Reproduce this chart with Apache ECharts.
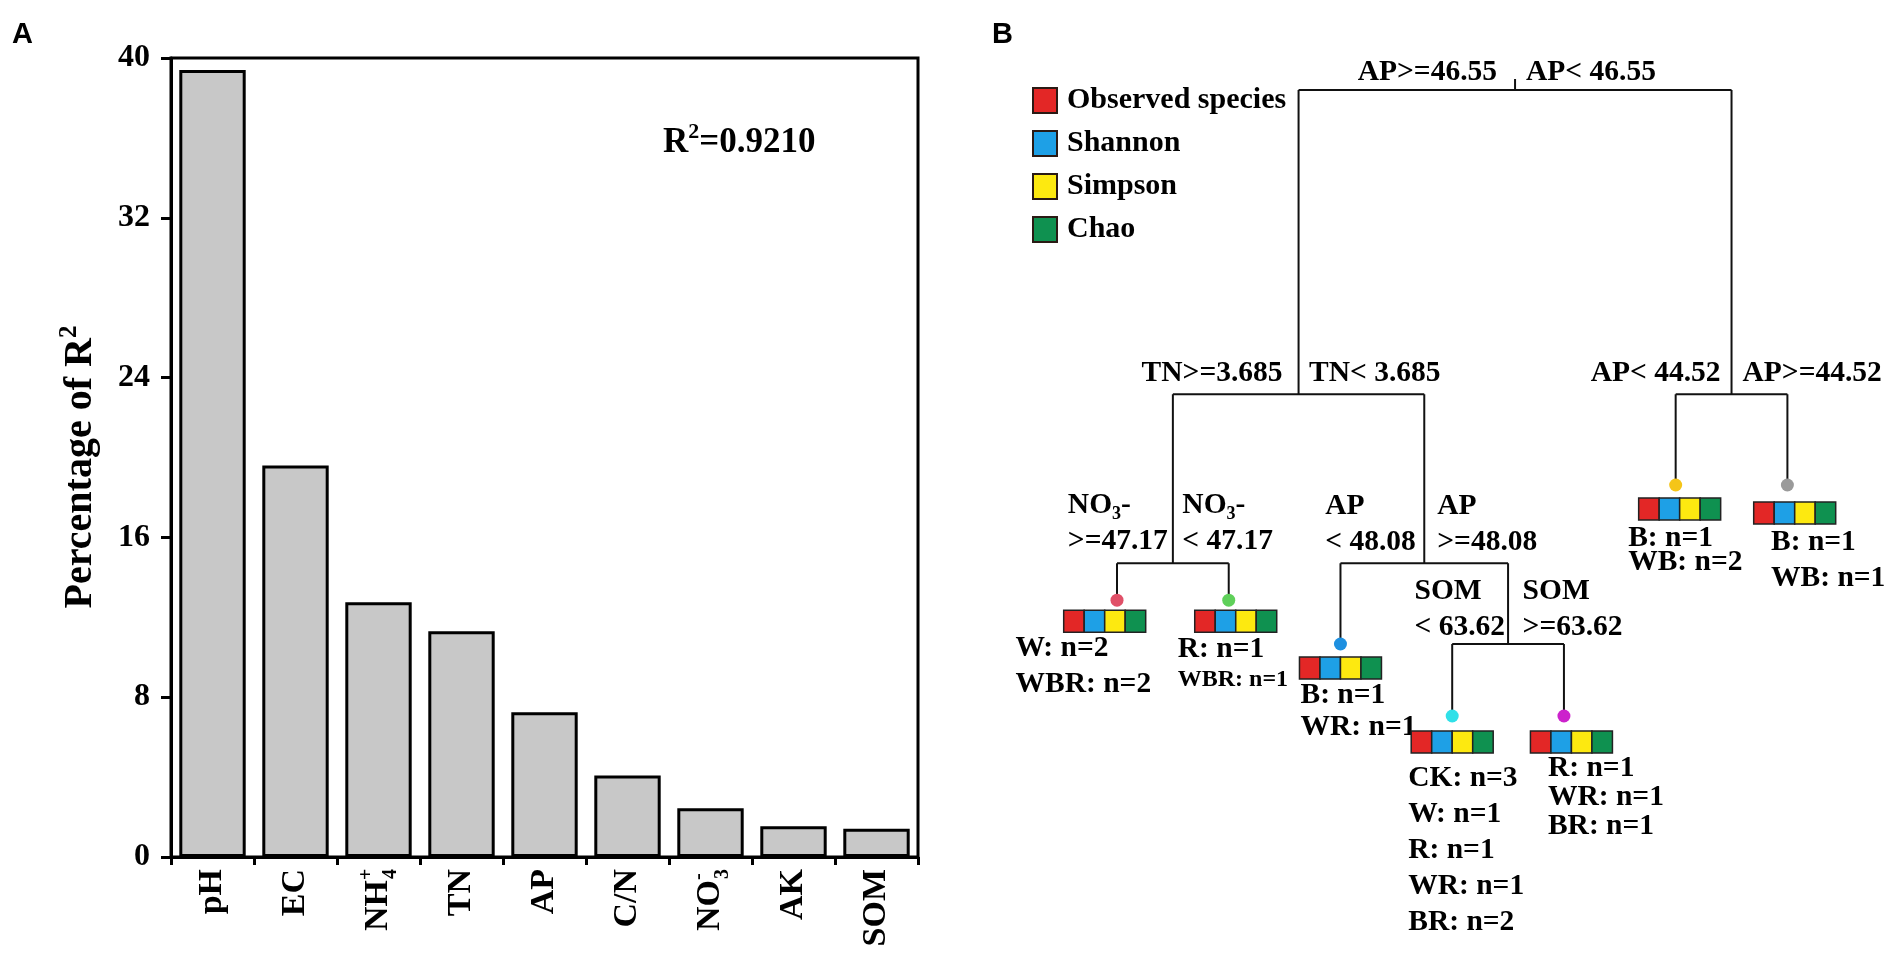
<!DOCTYPE html>
<html><head><meta charset="utf-8">
<script src="https://cdn.jsdelivr.net/npm/echarts@6/dist/echarts.min.js"></script>
<style>html,body{margin:0;padding:0;background:#fff}#c{width:1892px;height:954px}</style>
</head><body><div id="c"></div>
<script>
// ---------- Panel A data ----------
const categories = ['pH', 'EC', 'NH4+', 'TN', 'AP', 'C/N', 'NO3-', 'AK', 'SOM'];
const percentR2 = [39.4, 19.6, 12.75, 11.3, 7.25, 4.08, 2.44, 1.54, 1.41];
const yTickValues = [0, 8, 16, 24, 32, 40];
const r2Value = '0.9210';

// ---------- Panel B data (multivariate regression tree) ----------
const responseNames = ['Observed species', 'Shannon', 'Simpson', 'Chao'];
const responseColors = ['#e32726', '#1ea0e6', '#fde910', '#0f9150'];
// internal split nodes: children refs ('n' = split node, 'l' = leaf, leaves numbered left to right)
const splitChildren = [['n1', 'n5'], ['n2', 'n3'], ['l0', 'l1'], ['l2', 'n4'], ['l3', 'l4'], ['l5', 'l6']];
const splitLeftLabels = ['AP>=46.55', 'TN>=3.685', ['NO{s|3}-', '>=47.17'], ['AP', '< 48.08'], ['SOM', '< 63.62'], 'AP< 44.52'];
const splitRightLabels = ['AP< 46.55', 'TN< 3.685', ['NO{s|3}-', '< 47.17'], ['AP', '>=48.08'], ['SOM', '>=63.62'], 'AP>=44.52'];
const splitLevels = [100, 51.4, 24.4, 24.4, 11.5, 51.4];
const leafLevels = [18.5, 18.5, 11.5, 0, 0, 36.9, 36.9];
const leafDotColors = ['#e05068', '#5fd05a', '#1e90e0', '#30e0e8', '#cc22cc', '#f5c518', '#9a9a9a'];
const leafGroups = [
  ['W: n=2', 'WBR: n=2'],
  ['R: n=1', 'WBR: n=1'],
  ['B: n=1', 'WR: n=1'],
  ['CK: n=3', 'W: n=1', 'R: n=1', 'WR: n=1', 'BR: n=2'],
  ['R: n=1', 'WR: n=1', 'BR: n=1'],
  ['B: n=1', 'WB: n=2'],
  ['B: n=1', 'WB: n=1']
];

// ---------- layout / style (pixels) ----------
const FONT = '"Liberation Serif","Times New Roman",serif';
const splitLayout = [
  {gl: 18, gr: 11, dy: 18},
  {gl: 16, gr: 10.5, dy: 21},
  {gl: 5, gr: 9.5, dy: 22},
  {gl: 8.5, gr: 13, dy: 21},
  {gl: 3, gr: 14.5, dy: 17},
  {gl: 11, gr: 11, dy: 21}
];
const leafLayout = [
  {dx: -101.5, dy: 16, gap: 36, boxDx: -12.3, boxDy: 10},
  {dx: -51, dy: 17, gap: 31, boxDx: 7, boxDy: 10, small: [1]},
  {dx: -40, dy: 16, gap: 32, boxDx: 0, boxDy: 13},
  {dx: -44, dy: 25, gap: 36, boxDx: 0, boxDy: 15},
  {dx: -16, dy: 15, gap: 29, boxDx: 7.5, boxDy: 15},
  {dx: -47.5, dy: 18, gap: 24, boxDx: 4, boxDy: 13},
  {dx: -16.4, dy: 18, gap: 36, boxDx: 7.3, boxDy: 17}
];
const LBL_LH = 36, TREE_FS = 29.5, LEAF_FS = 29.5;

const richCat = {
  'NH4+': '{n|NH}{p|+}{b|4}',
  'NO3-': '{n|NO}{p|-}{b|3}'
};

// ---------- tree helpers ----------
const parentOf = {};
splitChildren.forEach((ch, i) => ch.forEach(c => { parentOf[c] = 'n' + i; }));
const isLeaf = r => r[0] === 'l';
const idxOf = r => +r.slice(1);
function xOf(r) {
  if (isLeaf(r)) return idxOf(r);
  const c = splitChildren[idxOf(r)];
  return (xOf(c[0]) + xOf(c[1])) / 2;
}
const levelOf = r => isLeaf(r) ? leafLevels[idxOf(r)] : splitLevels[idxOf(r)];
const treeRefs = splitChildren.map((_, i) => 'n' + i).concat(leafLevels.map((_, i) => 'l' + i));
const treeData = treeRefs.map(r => [xOf(r), levelOf(r)]);

const mctx = document.createElement('canvas').getContext('2d');
function measure(t, fs) {
  mctx.font = 'bold ' + (fs || TREE_FS) + 'px ' + FONT;
  return mctx.measureText(t.replace(/\{s\|(.*?)\}/g, '$1')).width;
}
function txt(text, x, y, size) {
  return {
    type: 'text',
    style: {
      text: text, x: x, y: y, align: 'left', verticalAlign: 'middle',
      fontSize: size, fontWeight: 'bold', fontFamily: FONT, fill: '#000', lineHeight: 36,
      rich: {s: {fontSize: 18, fontWeight: 'bold', fontFamily: FONT, fill: '#000', verticalAlign: 'bottom', lineHeight: 18}}
    }
  };
}
function seg(x1, y1, x2, y2) {
  return {type: 'line', shape: {x1: x1, y1: y1, x2: x2, y2: y2}, style: {stroke: '#111', lineWidth: 2}};
}
function renderTree(params, api) {
  const ref = treeRefs[params.dataIndex];
  const p = api.coord([xOf(ref), levelOf(ref)]);
  const x = p[0], y = p[1];
  const els = [];
  const par = parentOf[ref];
  if (par) {
    const py = api.coord([0, levelOf(par)])[1];
    els.push(seg(x, py, x, y));
  } else {
    els.push(seg(x, y, x, y - 11));
  }
  if (!isLeaf(ref)) {
    const i = idxOf(ref), lay = splitLayout[i];
    const c = splitChildren[i];
    const xa = api.coord([xOf(c[0]), 0])[0], xb = api.coord([xOf(c[1]), 0])[0];
    els.push(seg(xa, y, xb, y));
    const L = [].concat(splitLeftLabels[i]), R = [].concat(splitRightLabels[i]);
    const wL = Math.max.apply(null, L.map(t => measure(t)));
    L.forEach((t, k) => els.push(txt(t, x - lay.gl - wL, y - lay.dy - (L.length - 1 - k) * LBL_LH, TREE_FS)));
    R.forEach((t, k) => els.push(txt(t, x + lay.gr, y - lay.dy - (R.length - 1 - k) * LBL_LH, TREE_FS)));
  } else {
    const j = idxOf(ref), lay = leafLayout[j];
    els.push({type: 'circle', shape: {cx: x, cy: y, r: 6.5}, style: {fill: leafDotColors[j]}});
    const bw = 82, bh = 22, bx = x + lay.boxDx - bw / 2, by = y + lay.boxDy;
    responseColors.forEach((col, k) => els.push({
      type: 'rect', shape: {x: bx + k * bw / 4, y: by, width: bw / 4, height: bh},
      style: {fill: col, stroke: '#222', lineWidth: 1.5}
    }));
    leafGroups[j].forEach((t, k) => els.push(txt(t, x + lay.dx, by + bh + lay.dy + k * lay.gap,
      (lay.small && lay.small.indexOf(k) >= 0) ? 24 : LEAF_FS)));
  }
  return {type: 'group', children: els};
}

const chart = echarts.init(document.getElementById('c'), null, {renderer: 'canvas'});
const boldText = {fontFamily: FONT, fontWeight: 'bold', color: '#000'};

const legendSeries = responseNames.map((n, i) => ({
  name: n, type: 'scatter', xAxisIndex: 1, yAxisIndex: 1, data: [],
  itemStyle: {color: responseColors[i], borderColor: '#2a1a14', borderWidth: 2, opacity: 1}
}));

chart.setOption({
  animation: false,
  backgroundColor: '#fff',
  grid: [
    {left: 171, right: 974, top: 58, bottom: 97, show: true, borderColor: '#000', borderWidth: 3, containLabel: false},
    {left: 1117, right: 104.6, top: 90, bottom: 238, containLabel: false}
  ],
  legend: {
    left: 1027, top: 78, orient: 'vertical', icon: 'rect', itemWidth: 24, itemHeight: 25, itemGap: 8,
    selectedMode: false, data: responseNames,
    textStyle: Object.assign({fontSize: 30, lineHeight: 35, padding: [0, 0, 0, 5]}, boldText)
  },
  xAxis: [
    {
      type: 'category', gridIndex: 0, data: categories, boundaryGap: true,
      axisLine: {lineStyle: {color: '#000', width: 3}},
      axisTick: {show: true, length: 8, lineStyle: {color: '#000', width: 3}},
      axisLabel: {
        interval: 0, rotate: 90, margin: 12,
        formatter: v => richCat[v] || ('{n|' + v + '}'),
        rich: {
          n: Object.assign({fontSize: 34, lineHeight: 44, align: 'left'}, boldText),
          p: Object.assign({fontSize: 20, lineHeight: 20, verticalAlign: 'top', width: 1, align: 'left'}, boldText),
          b: Object.assign({fontSize: 20, lineHeight: 20, verticalAlign: 'bottom', align: 'left'}, boldText)
        }
      },
      splitLine: {show: false}
    },
    {type: 'value', gridIndex: 1, min: 0, max: 6, show: false}
  ],
  yAxis: [
    {
      type: 'value', gridIndex: 0, min: yTickValues[0], max: yTickValues[yTickValues.length - 1],
      interval: yTickValues[1] - yTickValues[0],
      axisLine: {show: true, lineStyle: {color: '#000', width: 3}},
      axisTick: {show: true, length: 10, lineStyle: {color: '#000', width: 3}},
      axisLabel: Object.assign({fontSize: 32, margin: 21}, boldText),
      splitLine: {show: false},
      name: '{n|Percentage of R}{s|2}{g| }', nameLocation: 'middle', nameRotate: 90, nameGap: 66,
      nameTextStyle: {
        rich: {
          n: Object.assign({fontSize: 40, lineHeight: 48}, boldText),
          s: Object.assign({fontSize: 25, lineHeight: 25, verticalAlign: 'top'}, boldText),
          g: Object.assign({fontSize: 10, width: 19}, boldText)
        }
      }
    },
    {type: 'value', gridIndex: 1, min: 0, max: 100, show: false}
  ],
  graphic: [
    {type: 'text', left: 12, top: 20, style: {text: 'A', fontSize: 29, fontWeight: 'bold', fontFamily: '"Liberation Sans",Arial,sans-serif', fill: '#000'}},
    {type: 'text', left: 992, top: 20, style: {text: 'B', fontSize: 29, fontWeight: 'bold', fontFamily: '"Liberation Sans",Arial,sans-serif', fill: '#000'}},
    {
      type: 'text', left: 663, top: 121,
      style: {
        text: '{r|R}{s|2}{r|=' + r2Value + '}',
        rich: {
          r: {fontSize: 35, lineHeight: 44, fontWeight: 'bold', fontFamily: FONT, fill: '#000'},
          s: {fontSize: 22, lineHeight: 22, verticalAlign: 'top', fontWeight: 'bold', fontFamily: FONT, fill: '#000'}
        }
      }
    }
  ],
  series: [
    {
      type: 'bar', xAxisIndex: 0, yAxisIndex: 0, data: percentR2, barCategoryGap: '20%',
      itemStyle: {color: '#c8c8c8', borderColor: '#000', borderWidth: 3}, silent: true
    },
    {
      type: 'custom', xAxisIndex: 1, yAxisIndex: 1, data: treeData, clip: false, silent: true,
      encode: {x: 0, y: 1}, renderItem: renderTree
    }
  ].concat(legendSeries)
});
</script>
</body></html>
